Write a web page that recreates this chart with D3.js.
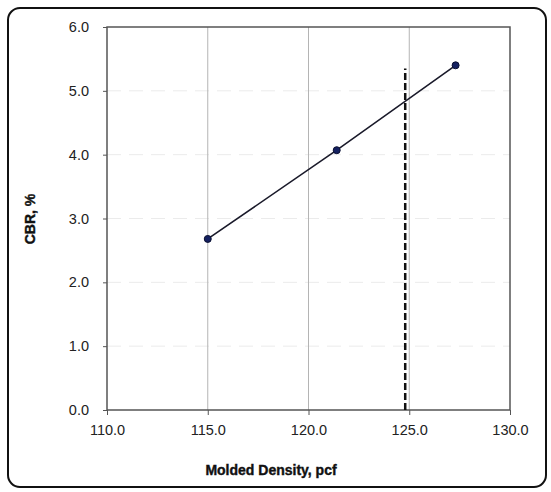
<!DOCTYPE html>
<html>
<head>
    <meta charset="utf-8">
    <script src="https://cdn.jsdelivr.net/npm/d3@7"></script>
    <style>
        body { margin: 0; background: #fff; }
    </style>
</head>
<body>
    <svg width="551" height="492" font-family="'Liberation Sans', Arial, sans-serif"></svg>
<script>
    // measured points
    var density = [115.0, 121.4, 127.3];
    var cbr = [2.68, 4.07, 5.40];
    // dashed reference line (molded density at 95%)
    var refDensity = [124.8];
    var refTop = [5.35];
    var xTicks = [110, 115, 120, 125, 130];
    var yTicks = [0, 1, 2, 3, 4, 5, 6];

    var svg = d3.select("svg");
    var m = { left: 107, right: 510, top: 27, bottom: 410 };

    // outer frame
    svg.append("rect")
        .attr("x", 8).attr("y", 8).attr("width", 538).attr("height", 479)
        .attr("rx", 12).attr("ry", 12)
        .attr("fill", "none").attr("stroke", "#111").attr("stroke-width", 2);

    var x = d3.scaleLinear().domain([110, 130]).range([m.left, m.right]);
    var y = d3.scaleLinear().domain([0, 6]).range([m.bottom, m.top]);

    // horizontal grid, very faint
    svg.append("g").selectAll("line").data(yTicks.slice(1, -1)).enter().append("line")
        .attr("x1", m.left).attr("x2", m.right)
        .attr("y1", d => y(d)).attr("y2", d => y(d))
        .attr("stroke", "#ebebeb").attr("stroke-width", 1)
        .attr("stroke-dasharray", "14,8");

    // vertical grid
    svg.append("g").selectAll("line").data(xTicks.slice(1, -1)).enter().append("line")
        .attr("x1", d => x(d)).attr("x2", d => x(d))
        .attr("y1", m.top).attr("y2", m.bottom)
        .attr("stroke", "#b4b4b4").attr("stroke-width", 1);

    // plot box
    svg.append("rect")
        .attr("x", m.left).attr("y", m.top).attr("width", m.right - m.left).attr("height", m.bottom - m.top)
        .attr("fill", "none").attr("stroke", "#555").attr("stroke-width", 1.5);

    var xAxis = svg.append("g").attr("transform", "translate(0," + m.bottom + ")")
        .call(d3.axisBottom(x).tickValues(xTicks).tickFormat(d3.format(".1f")).tickSize(5).tickPadding(10));
    var yAxis = svg.append("g").attr("transform", "translate(" + m.left + ",0)")
        .call(d3.axisLeft(y).tickValues(yTicks).tickFormat(d3.format(".1f")).tickSize(4).tickPadding(14));
    [xAxis, yAxis].forEach(function (a) {
        a.select(".domain").remove();
        a.selectAll("line").attr("stroke", "#555");
        a.selectAll("text").attr("font-size", 14.5).attr("fill", "#222")
            .attr("font-family", "'Liberation Sans', Arial, sans-serif");
    });

    // dashed line
    svg.append("g").selectAll("line").data(refDensity).enter().append("line")
        .attr("x1", d => x(d)).attr("x2", d => x(d))
        .attr("y1", y(0)).attr("y2", (d, i) => y(refTop[i]))
        .attr("stroke", "#111").attr("stroke-width", 2.5)
        .attr("stroke-dasharray", "7,3");

    // data line and markers
    var pts = density.map((d, i) => [d, cbr[i]]);
    svg.append("path")
        .attr("d", d3.line().x(d => x(d[0])).y(d => y(d[1]))(pts))
        .attr("fill", "none").attr("stroke", "#1a1a2a").attr("stroke-width", 1.6);
    svg.append("g").selectAll("circle").data(pts).enter().append("circle")
        .attr("cx", d => x(d[0])).attr("cy", d => y(d[1])).attr("r", 3.5)
        .attr("fill", "#142060").attr("stroke", "#0a0f30");

    // axis titles
    svg.append("text")
        .attr("transform", "translate(35,219) rotate(-90)")
        .attr("text-anchor", "middle")
        .attr("font-weight", "bold").attr("font-size", 14).attr("fill", "#111")
        .attr("stroke", "#111").attr("stroke-width", 0.4)
        .text("CBR, %");
    svg.append("text")
        .attr("x", 271).attr("y", 475)
        .attr("text-anchor", "middle")
        .attr("font-weight", "bold").attr("font-size", 14).attr("fill", "#111")
        .attr("stroke", "#111").attr("stroke-width", 0.4)
        .text("Molded Density, pcf");
</script>
</body>
</html>
